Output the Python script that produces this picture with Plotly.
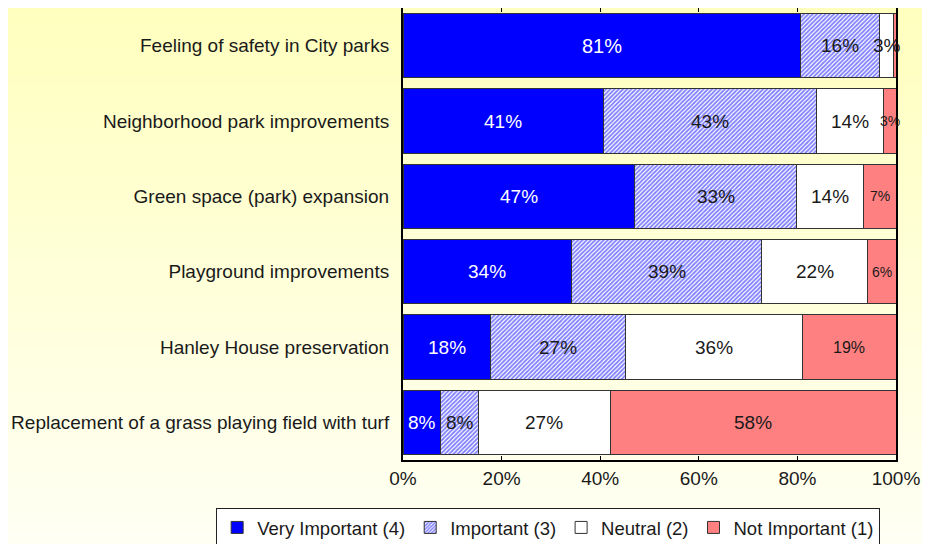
import plotly.graph_objects as go

categories = [
    "Feeling of safety in City parks",
    "Neighborhood park improvements",
    "Green space (park) expansion",
    "Playground improvements",
    "Hanley House preservation",
    "Replacement of a grass playing field with turf",
]
series_names = ["Very Important (4)", "Important (3)", "Neutral (2)", "Not Important (1)"]
very_important = [80.6, 40.6, 46.9, 34.1, 17.8, 7.6]
important = [16.1, 43.3, 33.0, 38.7, 27.4, 7.8]
neutral = [2.8, 13.5, 13.5, 21.5, 35.9, 26.6]
not_important = [0.5, 2.6, 6.6, 5.7, 18.9, 58.0]
tick_values = [0, 20, 40, 60, 80, 100]
tick_labels = ["0%", "20%", "40%", "60%", "80%", "100%"]

FONT = "Liberation Sans, Arial, sans-serif"

series = [very_important, important, neutral, not_important]
styles = [
    dict(color="#0000FF", pattern=None, txt="white", sizes=[20, 19, 19, 19, 19, 19]),
    dict(color="white", pattern=dict(shape="/", fgcolor="#0000FF", bgcolor="white", size=3, solidity=0.6),
         txt="#1a1a1a", sizes=[19] * 6),
    dict(color="white", pattern=None, txt="#1a1a1a", sizes=[19] * 6),
    dict(color="#FF8080", pattern=None, txt="#1a1a1a", sizes=[14, 14, 14, 14, 16, 19]),
]

fig = go.Figure()
for name, vals, st in zip(series_names, series, styles):
    marker = dict(color=st["color"], line=dict(color="#333333", width=1))
    if st["pattern"]:
        marker["pattern"] = st["pattern"]
    fig.add_trace(go.Bar(name=name, y=categories, x=vals, orientation="h",
                         marker=marker, hoverinfo="name+x"))

# data labels centred on each segment (positions derived from the data)
cum = [0.0] * len(categories)
for vals, st in zip(series, styles):
    for i, (cat, v) in enumerate(zip(categories, vals)):
        if v >= 1:
            fig.add_annotation(x=cum[i] + v / 2, y=cat, text=f"{round(v)}%",
                               showarrow=False, xanchor="center", yanchor="middle",
                               font=dict(family=FONT, color=st["txt"], size=st["sizes"][i]))
        cum[i] += v

# vertical yellow gradient background
n = 60
top = (255, 255, 190)
bot = (255, 255, 244)
y0, y1 = -0.2, 1.01
for i in range(n):
    t = i / (n - 1)
    c = tuple(round(top[k] + (bot[k] - top[k]) * t) for k in range(3))
    ya = y1 - (y1 - y0) * i / n
    yb = y1 - (y1 - y0) * (i + 1) / n
    fig.add_shape(type="rect", xref="paper", yref="paper", x0=-0.82, x1=1.08,
                  y0=yb - 0.002, y1=ya, fillcolor=f"rgb{c}", line_width=0, layer="below")

fig.update_layout(
    width=922, height=536,
    margin=dict(l=395, r=34, t=0, b=84, autoexpand=False),
    barmode="stack", bargap=0.15,
    paper_bgcolor="#FFFFF2", plot_bgcolor="white",
    font=dict(family=FONT, size=19, color="#1a1a1a"),
    showlegend=True,
    legend=dict(orientation="h", x=-0.379, xanchor="left", y=-0.106, yanchor="top",
                traceorder="normal", valign="middle",
                bordercolor="#222222", borderwidth=1, bgcolor="white",
                font=dict(size=18.5), itemwidth=30, tracegroupgap=0),
)
fig.update_xaxes(range=[0, 100], tickvals=tick_values, ticktext=tick_labels,
                 showgrid=False, zeroline=False, showline=True, linecolor="black",
                 linewidth=2, mirror="ticks", ticks="inside", ticklen=4,
                 tickcolor="black", tickfont=dict(size=19), fixedrange=True)
fig.update_yaxes(autorange="reversed", showgrid=False, showline=True, linecolor="black",
                 linewidth=2, mirror=True, ticks="", tickfont=dict(size=19),
                 ticklabelstandoff=8, fixedrange=True)

fig.write_html("out.html")
